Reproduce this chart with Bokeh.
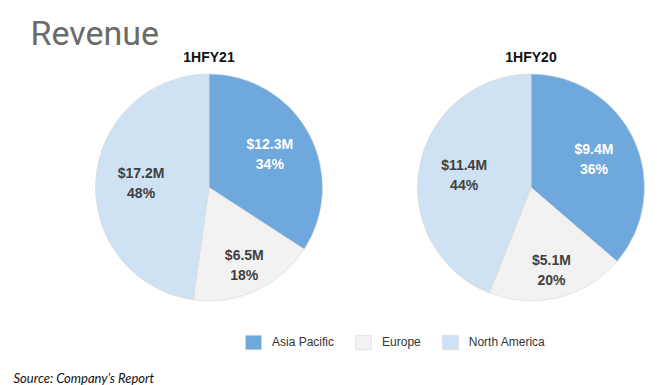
import math
from bokeh.plotting import figure
from bokeh.models import Range1d, ColumnDataSource, Legend, LegendItem
from bokeh.core.properties import value
from bokeh.embed import file_html
from bokeh.resources import INLINE

# ---------------- data ----------------
regions = ["Asia Pacific", "Europe", "North America"]
region_colors = ["#6fa8dc", "#f2f2f2", "#cfe2f3"]
label_colors = ["#ffffff", "#404040", "#404040"]
periods = ["1HFY21", "1HFY20"]
revenue_1hfy21 = [12.3, 6.5, 17.2]
revenue_1hfy20 = [9.4, 5.1, 11.4]
chart_title = "Revenue"
source_note = "Source: Company\u2019s Report"

# ---------------- layout ----------------
W, H = 659, 385
def ry(y):                # reference pixel y -> data y
    return H - y

centers_x = [208.5, 530.5]
center_y = ry(187)
R = 113.5
label_r_frac = [0.61, 0.75, 0.6]   # label distance from centre, per region

p = figure(width=W, height=H, output_backend="svg", toolbar_location=None,
           x_range=Range1d(0, W), y_range=Range1d(0, H),
           min_border=0, tools="")
p.axis.visible = False
p.grid.visible = False
p.outline_line_color = None
p.background_fill_color = "white"
p.border_fill_color = "white"

wx, wy, s_ang, e_ang, fills = [], [], [], [], []
lx, ly, l_money, l_pct, l_col = [], [], [], [], []
for cx, vals in zip(centers_x, [revenue_1hfy21, revenue_1hfy20]):
    total = sum(vals)
    cum = 0.0
    for v, c, lc, fr in zip(vals, region_colors, label_colors, label_r_frac):
        a_start = math.pi / 2 - 2 * math.pi * (cum + v) / total
        a_end = math.pi / 2 - 2 * math.pi * cum / total
        cum += v
        wx.append(cx); wy.append(center_y)
        s_ang.append(a_start); e_ang.append(a_end); fills.append(c)
        mid = (a_start + a_end) / 2
        lx.append(cx + fr * R * math.cos(mid))
        ly.append(center_y + fr * R * math.sin(mid))
        l_money.append("$%.1fM" % v)
        l_pct.append("%d%%" % round(v / total * 100))
        l_col.append(lc)

wsrc = ColumnDataSource(dict(x=wx, y=wy, s=s_ang, e=e_ang, fill=fills))
wr = p.wedge(x="x", y="y", radius=R, start_angle="s", end_angle="e",
             fill_color="fill", line_color="#d9d9d9", line_width=0.6, source=wsrc)

lsrc = ColumnDataSource(dict(x=lx, y=ly, m=l_money, pc=l_pct, col=l_col))
for fld, off in (("m", -10), ("pc", 10)):
    p.text(x="x", y="y", text=fld, source=lsrc, text_color="col",
           text_font=value("Liberation Sans"), text_font_style="bold",
           text_font_size="14px", text_align="center", text_baseline="middle",
           y_offset=off)

# period titles
p.text(x=centers_x, y=[ry(56)] * 2, text=periods, text_font=value("Liberation Sans"),
       text_font_style="bold", text_font_size="14px", text_color="#111111",
       text_align="center", text_baseline="alphabetic")

# main title
p.text(x=[30], y=[ry(32)], text=[chart_title], text_font=value("Roboto"),
       text_font_size="34px", text_color="#6b6b6b", text_baseline="alphabetic")

# source
p.text(x=[13], y=[ry(377)], text=[source_note], text_font=value("Lato"),
       text_font_style="italic", text_font_size="13px", text_color="#111111",
       text_baseline="alphabetic")

legend = Legend(items=[LegendItem(label=r, renderers=[wr], index=i) for i, r in enumerate(regions)],
                orientation="horizontal", location=(243, 34),
                glyph_width=20, glyph_height=18, label_height=18,
                label_standoff=9, spacing=19, padding=0, margin=0,
                border_line_color=None, background_fill_alpha=0,
                label_text_font="Liberation Sans", label_text_font_size="12px",
                label_text_color="#333333")
p.add_layout(legend, "center")

open("out.html", "w").write(file_html(p, INLINE))
